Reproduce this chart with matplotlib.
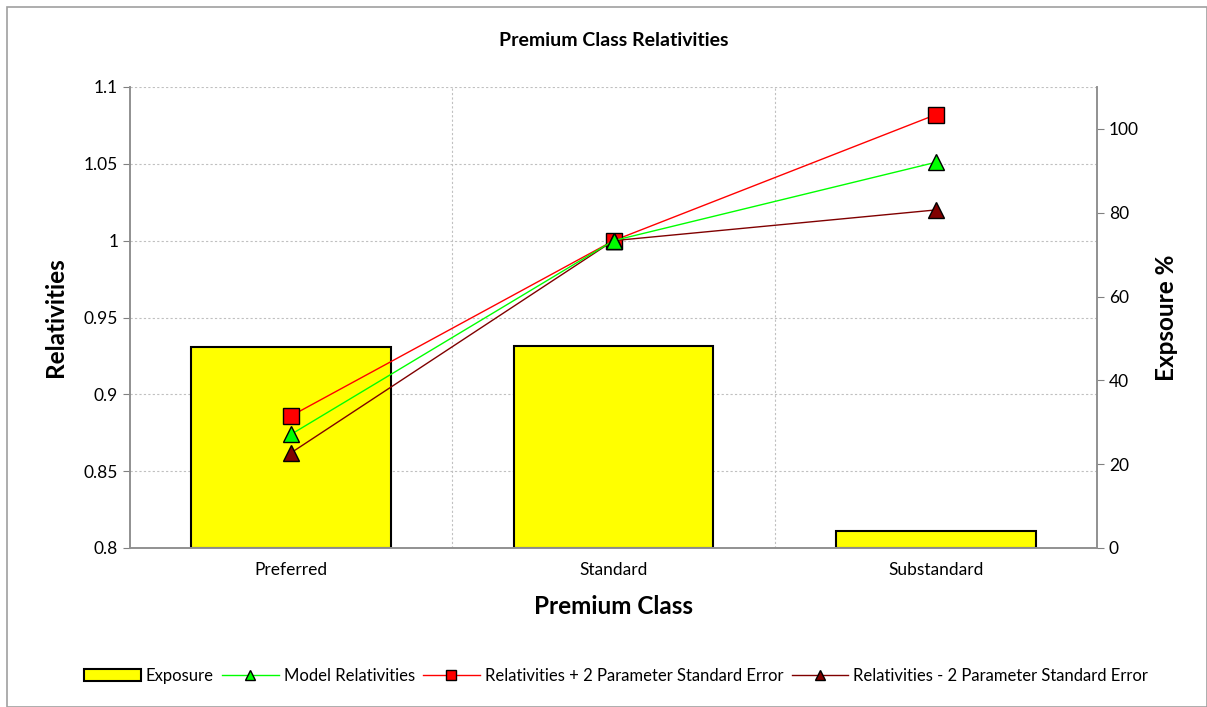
import matplotlib
matplotlib.use("Agg")
import matplotlib.pyplot as plt
from matplotlib.patches import Rectangle, Patch
import numpy as np

plt.rcParams['font.family'] = ['Lato', 'DejaVu Sans']

categories = ["Preferred", "Standard", "Substandard"]
exposure = [47.9, 48.3, 4.0]
model_rel = [0.874, 1.0, 1.051]
rel_plus = [0.886, 1.0, 1.082]
rel_minus = [0.862, 1.0, 1.020]

W, H = 1207, 707
fig = plt.figure(figsize=(W/100, H/100), dpi=100)
fig.patch.set_facecolor('white')
fig.add_artist(Rectangle((7/W, 0), 1 - 7/W, 1 - 7/H, transform=fig.transFigure,
                         fill=False, edgecolor='#a0a0a0', linewidth=1.2))

left, right, top, bottom = 130/W, 1097/W, 1 - 87/H, 1 - 548/H
ax2 = fig.add_axes([left, bottom, right - left, top - bottom])  # bars (right axis)
ax = ax2.twinx()
x = np.arange(len(categories))

ax2.bar(x, exposure, width=0.62, color='#FFFF00', edgecolor='black', linewidth=1.5, zorder=2)
ax2.set_ylim(0, 110)
ax2.set_yticks([0, 20, 40, 60, 80, 100])
ax2.yaxis.tick_right()
ax2.yaxis.set_label_position('right')
ax2.set_ylabel('Expsoure %', fontsize=17.5, fontweight='bold', labelpad=12)
ax2.set_xlim(-0.5, 2.5)
ax2.set_xticks(x)
ax2.set_xticklabels(categories, fontsize=12.5)
ax2.tick_params(axis='x', length=0, pad=10)
ax2.tick_params(axis='y', labelsize=12.5, color='#808080', length=5, direction='out')
for v in [0.5, 1.5]:
    ax2.axvline(v, color='#c0c0c0', linestyle=(0, (2, 2)), linewidth=0.8, zorder=0)
ax2.set_xlabel('Premium Class', fontsize=17.5, fontweight='bold', labelpad=12)

ax.yaxis.tick_left()
ax.yaxis.set_label_position('left')
ax.set_ylim(0.8, 1.1)
ax.set_yticks([0.8, 0.85, 0.9, 0.95, 1.0, 1.05, 1.1])
ax.set_yticklabels(['0.8', '0.85', '0.9', '0.95', '1', '1.05', '1.1'])
ax.tick_params(axis='y', labelsize=12.5, color='#808080', length=5, direction='out')
ax.set_ylabel('Relativities', fontsize=17.5, fontweight='bold', labelpad=12)
for v in [0.85, 0.9, 0.95, 1.0, 1.05, 1.1]:
    ax2.axhline((v - 0.8) / 0.3 * 110, color='#c0c0c0', linestyle=(0, (2, 2)), linewidth=0.8, zorder=0)

ax.plot(x, model_rel, color='#00FF00', linewidth=1, marker='^', markersize=12,
        markerfacecolor='#00FF00', markeredgecolor='black', markeredgewidth=1, zorder=4)
ax.plot(x, rel_plus, color='#FF0000', linewidth=1, marker='s', markersize=11,
        markerfacecolor='#FF0000', markeredgecolor='black', markeredgewidth=1, zorder=3)
ax.plot(x, rel_minus, color='#800000', linewidth=1, marker='^', markersize=12,
        markerfacecolor='#800000', markeredgecolor='black', markeredgewidth=1, zorder=3)

for a in (ax, ax2):
    a.spines['top'].set_visible(False)
    for s in ['left', 'right', 'bottom']:
        a.spines[s].set_color('#909090')
        a.spines[s].set_linewidth(1.2)

fig.text((left + right) / 2, 1 - 41/H, 'Premium Class Relativities', ha='center', va='center',
         fontsize=14, fontweight='bold')

bar_handle = Patch(facecolor='#FFFF00', edgecolor='black', linewidth=1.5)
h1 = plt.Line2D([], [], color='#00FF00', linewidth=1, marker='^', markersize=7,
                markerfacecolor='#00FF00', markeredgecolor='black')
h2 = plt.Line2D([], [], color='#FF0000', linewidth=1, marker='s', markersize=7,
                markerfacecolor='#FF0000', markeredgecolor='black')
h3 = plt.Line2D([], [], color='#800000', linewidth=1, marker='^', markersize=7,
                markerfacecolor='#800000', markeredgecolor='black')
fig.legend([bar_handle, h1, h2, h3],
           ['Exposure', 'Model Relativities', 'Relativities + 2 Parameter Standard Error',
            'Relativities - 2 Parameter Standard Error'],
           loc='center', bbox_to_anchor=(616/W, 1 - 676/H), ncol=4, frameon=False,
           fontsize=12, handlelength=3.4, handletextpad=0.3, columnspacing=0.5)

fig.savefig('out.png', dpi=100)
